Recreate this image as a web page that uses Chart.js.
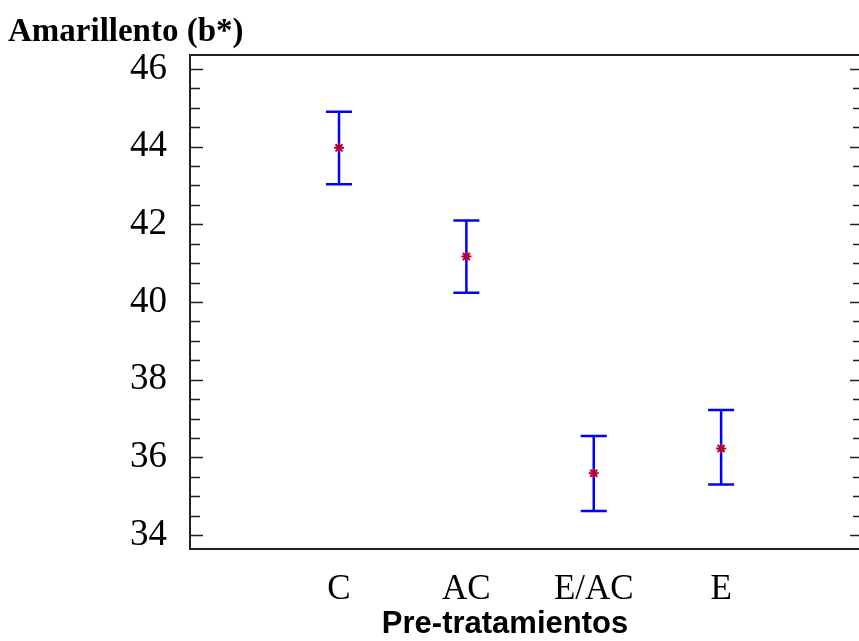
<!DOCTYPE html>
<html>
<head>
<style>
  body { margin: 0; overflow: hidden; background: #fff; }
  #wrap { width: 870px; height: 641px; }
</style>
</head>

<body>

<div id="wrap">
  <canvas id="myChart"></canvas>
</div>

<script src="https://cdn.jsdelivr.net/npm/chart.js"></script>

<script>
  // Amarillento (b*) por pre-tratamiento: media e intervalo
  const categories = ['C', 'AC', 'E/AC', 'E'];
  const means = [43.97, 41.17, 35.59, 36.23];
  const upper = [44.90, 42.10, 36.55, 37.22];
  const lower = [43.03, 40.24, 34.62, 35.30];
  const yTicks = [34, 36, 38, 40, 42, 44, 46];

  const yTitle = 'Amarillento (b*)';
  const xTitle = 'Pre-tratamientos';

  const points = categories.map(function(c, i) {
    return { x: i + 1, y: means[i] };
  });

  // error bars, frame, minor ticks and titles
  const extras = {
    id: 'extras',
    beforeDatasetsDraw(chart) {
      const ctx = chart.ctx;
      const xs = chart.scales.x, ys = chart.scales.y;
      ctx.save();
      ctx.strokeStyle = '#0000ff';
      ctx.lineWidth = 2.5;
      categories.forEach(function(c, i) {
        const px = xs.getPixelForValue(i + 1);
        const top = ys.getPixelForValue(upper[i]);
        const bot = ys.getPixelForValue(lower[i]);
        ctx.beginPath();
        ctx.moveTo(px, top); ctx.lineTo(px, bot);
        ctx.moveTo(px - 13, top); ctx.lineTo(px + 13, top);
        ctx.moveTo(px - 13, bot); ctx.lineTo(px + 13, bot);
        ctx.stroke();
      });
      ctx.restore();
    },
    afterDraw(chart) {
      const ctx = chart.ctx;
      const a = chart.chartArea;
      const ys = chart.scales.y;
      ctx.save();
      ctx.strokeStyle = '#222';
      ctx.lineWidth = 2;
      ctx.beginPath();
      ctx.moveTo(a.left, a.top); ctx.lineTo(a.right, a.top);
      ctx.lineTo(a.right, a.bottom);
      ctx.stroke();
      // ticks inside the frame, minor every 0.5
      ctx.lineWidth = 1.5;
      for (let v = yTicks[0]; v <= yTicks[yTicks.length - 1] + 0.01; v += 0.5) {
        const py = Math.round(ys.getPixelForValue(v)) + 0.5;
        const len = (v % 2 === 0) ? 13 : 10;
        ctx.beginPath();
        ctx.moveTo(a.left, py); ctx.lineTo(a.left + len, py);
        ctx.moveTo(a.right, py); ctx.lineTo(a.right - len, py);
        ctx.stroke();
      }
      ctx.fillStyle = '#000';
      ctx.font = 'bold 33px "Liberation Serif"';
      ctx.textAlign = 'left';
      ctx.textBaseline = 'alphabetic';
      ctx.fillText(yTitle, 8, 41);
      ctx.font = 'bold 31px "Liberation Sans"';
      ctx.textAlign = 'center';
      ctx.fillText(xTitle, 505, 633);
      ctx.restore();
    }
  };

  const config = {
    type: 'scatter',
    data: {
      datasets: [{
        data: points,
        pointStyle: 'star',
        radius: 5,
        borderWidth: 2,
        borderColor: '#b0003c',
        backgroundColor: '#b0003c'
      }]
    },
    options: {
      responsive: true,
      maintainAspectRatio: false,
      animation: false,
      layout: { padding: { top: 55, right: 0, left: 0, bottom: 0 } },
      plugins: { legend: { display: false }, tooltip: { enabled: false } },
      scales: {
        x: {
          type: 'linear',
          min: -0.170,
          max: 5.114,
          afterBuildTicks: function(s) { s.ticks = categories.map(function(c, i) { return { value: i + 1 }; }); },
          afterFit: function(s) { s.height = 92; },
          grid: { display: false },
          border: { display: true, color: '#222', width: 2 },
          ticks: {
            callback: function(v) { return categories[v - 1]; },
            color: '#000',
            padding: 12,
            maxRotation: 0,
            font: { family: '"Liberation Serif"', size: 35 }
          }
        },
        y: {
          min: 33.64,
          max: 46.36,
          afterBuildTicks: function(s) { s.ticks = yTicks.map(function(v) { return { value: v }; }); },
          afterFit: function(s) { s.width = 190; },
          grid: { display: false },
          border: { display: true, color: '#222', width: 2 },
          ticks: {
            color: '#000',
            padding: 15,
            font: { family: '"Liberation Serif"', size: 37 }
          }
        }
      }
    },
    plugins: [extras]
  };

  const myChart = new Chart(document.getElementById('myChart'), config);
</script>

</body>
</html>
